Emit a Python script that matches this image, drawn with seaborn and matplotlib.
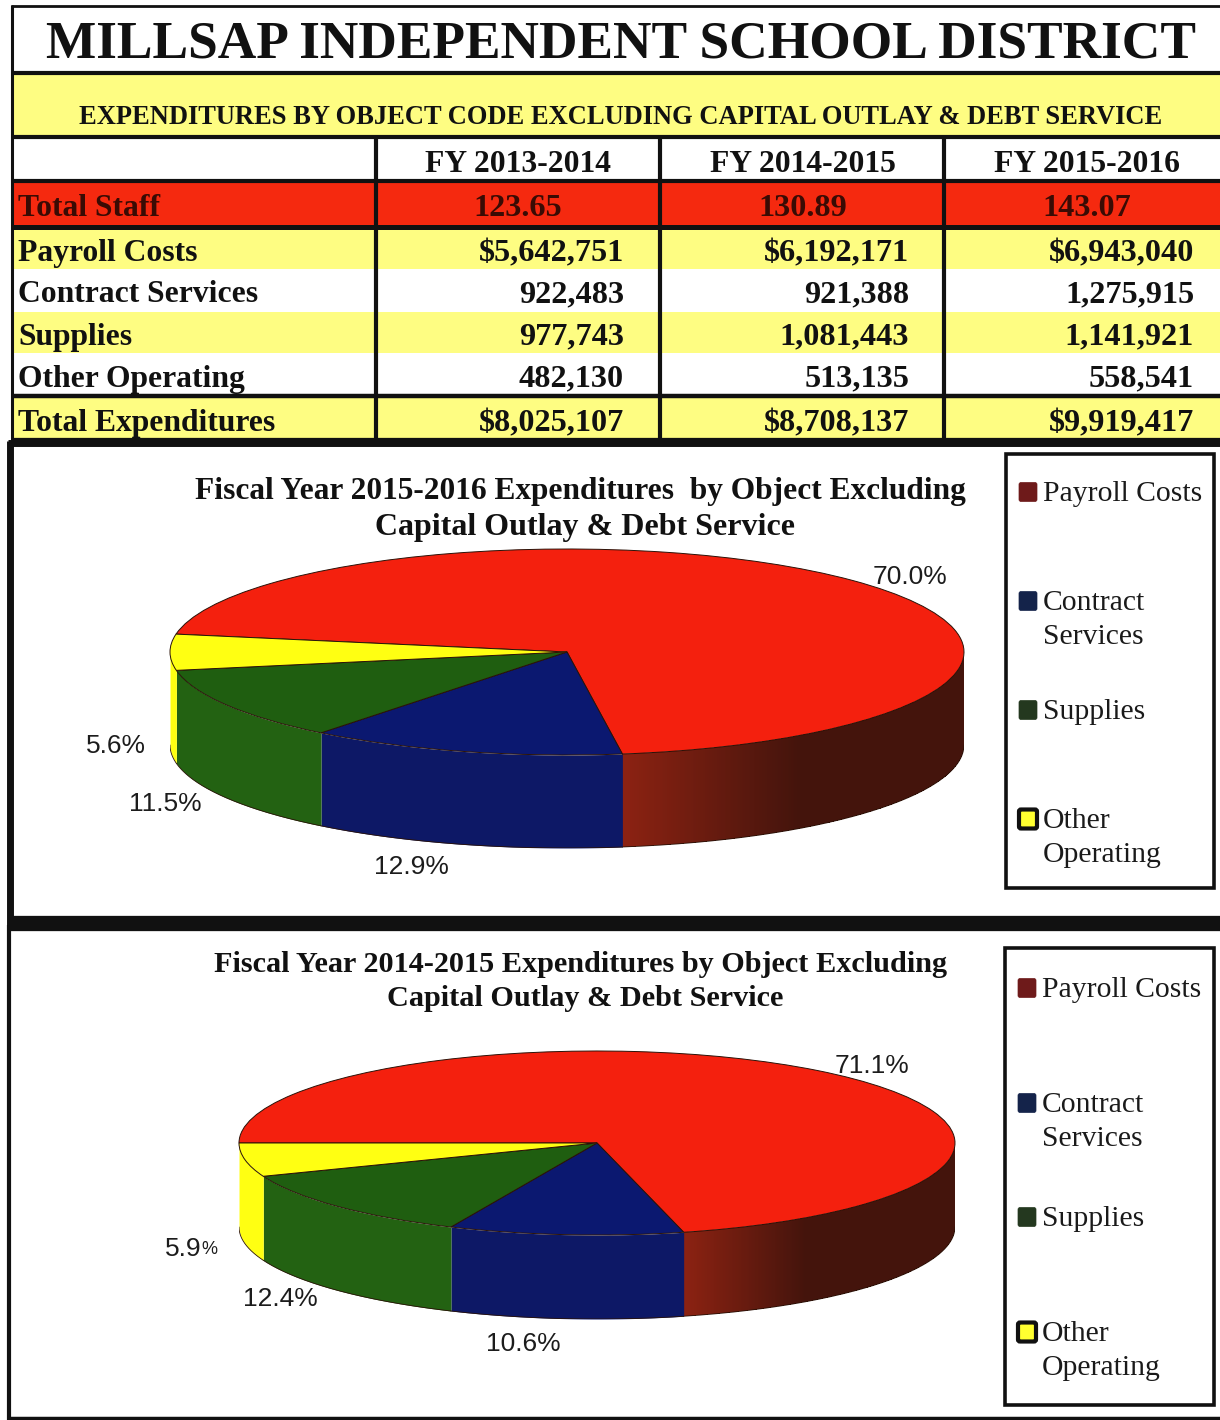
import numpy as np
import matplotlib
matplotlib.use("Agg")
import matplotlib.pyplot as plt
from matplotlib.patches import Rectangle, FancyBboxPatch
from matplotlib.colors import LinearSegmentedColormap
import seaborn as sns

# ---------- data ----------
page_title = "MILLSAP INDEPENDENT SCHOOL DISTRICT"
table_title = "EXPENDITURES BY OBJECT CODE EXCLUDING CAPITAL OUTLAY & DEBT SERVICE"
fiscal_years = ["FY 2013-2014", "FY 2014-2015", "FY 2015-2016"]
row_labels = ["Payroll Costs", "Contract Services", "Supplies", "Other Operating"]
total_staff = ["123.65", "130.89", "143.07"]
fy2014 = [5642751, 922483, 977743, 482130]
fy2015 = [6192171, 921388, 1081443, 513135]
fy2016 = [6943040, 1275915, 1141921, 558541]
totals = [8025107, 8708137, 9919417]
title_2016 = ["Fiscal Year 2015-2016 Expenditures  by Object Excluding", "Capital Outlay & Debt Service"]
title_2015 = ["Fiscal Year 2014-2015 Expenditures by Object Excluding", "Capital Outlay & Debt Service"]
legend_labels = [["Payroll Costs"], ["Contract", "Services"], ["Supplies"], ["Other", "Operating"]]

# ---------- style ----------
sns.set_theme(style="white")
SERIF = ["Liberation Serif", "DejaVu Serif"]
SANS = ["Liberation Sans", "DejaVu Sans"]
plt.rcParams["font.family"] = SERIF
top_colors = sns.color_palette(["#f4200e", "#0b1870", "#1f5e10", "#ffff12"])
wall_colors = sns.color_palette(["#8c2212", "#0d1866", "#236212", "#ffff12"])
wall_shade = LinearSegmentedColormap.from_list("wall", ["#8c2212", "#44140c"])
legend_colors = ["#6e1a1a", "#14234a", "#24381f", "#ffff30"]
INK = "#111111"
PALE = "#fefd82"
RED = "#f5290f"

W, H = 1220, 1420
fig = plt.figure(figsize=(W / 100, H / 100), dpi=100, facecolor="white")
page = fig.add_axes([0, 0, 1, 1], zorder=0)
page.set_xlim(0, W)
page.set_ylim(H, 0)
page.axis("off")


def band(y0, y1, color, x0=12, x1=W):
    page.add_patch(Rectangle((x0, y0), x1 - x0, y1 - y0, fc=color, ec="none", zorder=1))


def hline(y, lw, x0=11, x1=W, color="#111111"):
    page.plot([x0, x1], [y, y], color=color, lw=lw, solid_capstyle="butt", zorder=3)


def vline(x, y0, y1, lw, color="#111111"):
    page.plot([x, x], [y0, y1], color=color, lw=lw, solid_capstyle="butt", zorder=3)


# ---------- table ----------
band(74, 136, PALE)
band(182, 227, RED)
band(229, 269, PALE)
band(312, 353, PALE)
band(397, 440, PALE)

for y, lw in [(6, 2), (73, 3), (136.5, 3), (181, 3), (227, 3.6), (396, 3.2), (441, 4.5)]:
    hline(y, lw)
vline(12, 5, 441, 2.2)
for x in (376, 659.5, 944):
    vline(x, 137, 441, 3)

page.text(621, 45, page_title, ha="center", va="center", fontsize=38.4, fontweight="bold", color=INK)
page.text(621, 117, table_title, ha="center", va="center", fontsize=19.1, fontweight="bold", color=INK)

col_centers = [518, 803, 1087]
col_rights = [624, 909, 1194]
row_y = [254, 295, 337, 379]
LABEL_SIZE = 22.8
NUM_SIZE = 23.2

page.text(18, 209, "Total Staff", ha="left", va="center", fontsize=LABEL_SIZE, fontweight="bold", color="#3a0b04")
page.text(18, 424, "Total Expenditures", ha="left", va="center", fontsize=LABEL_SIZE, fontweight="bold", color=INK)
for lab, y in zip(row_labels, row_y):
    page.text(18, y, lab, ha="left", va="center", fontsize=LABEL_SIZE, fontweight="bold", color=INK)

for j, year in enumerate(fiscal_years):
    page.text(col_centers[j], 164, year, ha="center", va="center", fontsize=LABEL_SIZE, fontweight="bold", color=INK)
    page.text(col_centers[j], 209, total_staff[j], ha="center", va="center", fontsize=NUM_SIZE, fontweight="bold", color="#3a0b04")
    page.text(col_rights[j], 424, f"${totals[j]:,}", ha="right", va="center", fontsize=NUM_SIZE, fontweight="bold", color=INK)

for j, col in enumerate([fy2014, fy2015, fy2016]):
    for i, v in enumerate(col):
        txt = f"${v:,}" if i == 0 else f"{v:,}"
        page.text(col_rights[j], row_y[i], txt, ha="right", va="center", fontsize=NUM_SIZE, fontweight="bold", color=INK)

# ---------- panel frames ----------
hline(443, 5, x0=8)
vline(10, 441, 925, 5)
hline(923, 11, x0=8)
vline(9, 925, 1420, 3)
hline(1418, 2.5, x0=8)


def pie_3d(values, cx, cy, rx, ry, depth, start):
    """Tilted pie: ax.pie on a non-equal axes, walls built from the wedge angles."""
    height = 2 * ry + depth
    ax = fig.add_axes([(cx - rx) / W, 1 - (cy - ry + height) / H, 2 * rx / W, height / H], zorder=2)
    ax.patch.set_alpha(0)
    wedges, _ = ax.pie(values, colors=top_colors, startangle=start, counterclock=False, radius=1,
                       wedgeprops=dict(edgecolor="#2a1208", linewidth=0.7, zorder=3))
    ax.set_aspect("auto")
    ax.set_xlim(-1, 1)
    d = depth / ry
    ax.set_ylim(-1 - d, 1)
    ax.axis("off")
    for k, w in enumerate(wedges):
        for shift in (-360, 0, 360):
            a0 = max(w.theta1 + shift, 180)
            a1 = min(w.theta2 + shift, 360)
            if a1 <= a0:
                continue
            t = np.radians(np.linspace(a0, a1, 300))
            x = np.cos(t)
            y = np.sin(t)
            if k == 0:
                # shaded wall: one seamless mesh following the rim
                X = np.vstack([x, x])
                Y = np.vstack([y, y - d])
                shade = np.clip((x - x[0]) / (0.58 - x[0]), 0, 1)
                ax.pcolormesh(X, Y, shade[:-1].reshape(1, -1), cmap=wall_shade, vmin=0, vmax=1,
                              shading="flat", antialiased=False, linewidth=0, zorder=1)
            else:
                ax.fill_between(x, y, y - d, color=wall_colors[k], lw=0, zorder=1)
            ax.plot(x, y - d, color="#2a1208", lw=0.6, zorder=2)
    ax.set_xlim(-1, 1)
    ax.set_ylim(-1 - d, 1)
    return ax


def pct(values, i):
    return f"{100 * values[i] / sum(values):.1f}%"


def panel_titles(lines, cx, ys, sizes):
    for line, x, y, size in zip(lines, cx, ys, sizes):
        page.text(x, y, line, ha="center", va="center", fontsize=size, fontweight="bold", color=INK)


def legend_box(x0, y0, x1, y1, swatch_x, ys):
    page.add_patch(Rectangle((x0, y0), x1 - x0, y1 - y0, fc="white", ec="#111111", lw=2.6, zorder=3))
    for k, (lines, y) in enumerate(zip(legend_labels, ys)):
        outlined = k == 3
        page.add_patch(FancyBboxPatch((swatch_x + 2, y - 7.5), 14, 15, boxstyle="round,pad=2,rounding_size=2",
                                      fc=legend_colors[k], ec="#111111" if outlined else legend_colors[k],
                                      lw=3 if outlined else 0.5, zorder=4))
        for n, line in enumerate(lines):
            page.text(swatch_x + 24, y + 2 + 34 * n, line, ha="left", va="center", fontsize=21.3, color="#1a1a1a", zorder=4)


# ---------- FY 2015-2016 panel ----------
panel_titles(title_2016, [580, 585], [491, 527], [22.6, 23.0])
pie_3d(fy2016, 567, 652, 397, 103, 93, 170)
for i, (x, y) in zip([0, 3, 2, 1], [(910, 577), (116, 746), (165, 804), (411, 867)]):
    page.text(x, y, pct(fy2016, i), ha="center", va="center", fontsize=19, family=SANS, color="#1c1c1c")
legend_box(1006, 454, 1214, 888, 1019, [492, 601, 710, 819])

# ---------- FY 2014-2015 panel ----------
panel_titles(title_2015, [581, 585], [965, 999], [21.8, 21.8])
pie_3d(fy2015, 597, 1143, 358, 92, 84, 180)
for i, (x, y) in zip([0, 2, 1], [(872, 1066), (280, 1299), (523, 1344)]):
    page.text(x, y, pct(fy2015, i), ha="center", va="center", fontsize=19, family=SANS, color="#1c1c1c")
other_2015 = pct(fy2015, 3)
page.text(183, 1249, other_2015[:-1], ha="center", va="center", fontsize=19, family=SANS, color="#1c1c1c")
page.text(201, 1250, other_2015[-1], ha="left", va="center", fontsize=13, family=SANS, color="#1c1c1c")
legend_box(1005, 948, 1214, 1405, 1018, [988, 1103, 1217, 1332])

fig.savefig("out.png", dpi=100, facecolor="white")
